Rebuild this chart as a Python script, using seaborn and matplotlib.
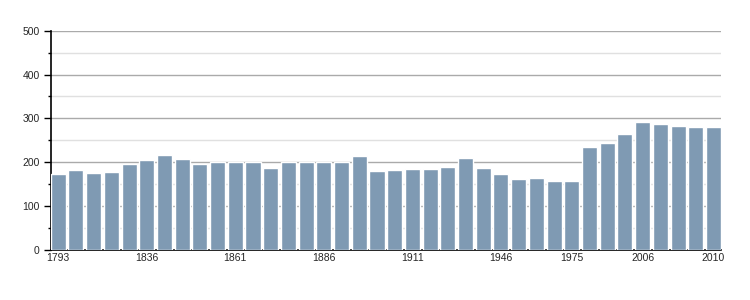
import matplotlib
matplotlib.use("Agg")
import matplotlib.pyplot as plt
import seaborn as sns
import pandas as pd
from matplotlib.ticker import MultipleLocator

years = [1793, 1800, 1806, 1821, 1831, 1836, 1841, 1846, 1851, 1856,
         1861, 1866, 1872, 1876, 1881, 1886, 1891, 1896, 1901, 1906,
         1911, 1921, 1926, 1931, 1936, 1946, 1954, 1962, 1968, 1975,
         1982, 1990, 1999, 2006, 2007, 2008, 2009, 2010]
population = [173, 182, 176, 178, 196, 205, 217, 207, 196, 201,
              201, 201, 187, 201, 201, 201, 201, 214, 180, 182,
              185, 185, 189, 210, 187, 173, 162, 164, 157, 157,
              235, 244, 264, 292, 287, 283, 280, 280]
shown_labels = [1793, 1836, 1861, 1886, 1911, 1946, 1975, 2006, 2010]

sns.set_style("white")
plt.rcParams['font.family'] = ['Liberation Sans', 'DejaVu Sans']

df = pd.DataFrame({"year": [str(y) for y in years], "pop": population})

fig = plt.figure(figsize=(7.5, 3), dpi=100)
ax = fig.add_axes([0.0676, 0.1667, 0.8937, 0.7311])

sns.barplot(data=df, x="year", y="pop", color="#7f9ab3", saturation=1,
            width=0.85, ax=ax, zorder=3)

ax.set_xlim(-0.425, len(years) - 1 + 0.425)
ax.set_ylim(0, 500)
ax.yaxis.set_major_locator(MultipleLocator(100))
ax.yaxis.set_minor_locator(MultipleLocator(50))
ax.grid(which="major", axis="y", color="#aaaaaa", linewidth=1, zorder=0)
ax.grid(which="minor", axis="y", color="#e0e0e0", linewidth=1, zorder=0)
ax.grid(False, axis="x")
ax.set_axisbelow(True)

ticks = [i for i, y in enumerate(years) if y in shown_labels]
ax.set_xticks(ticks)
ax.set_xticklabels([str(years[i]) for i in ticks])

for s in ["top", "right"]:
    ax.spines[s].set_visible(False)
for s in ["left", "bottom"]:
    ax.spines[s].set_color("black")
    ax.spines[s].set_linewidth(1.2)

ax.tick_params(axis="y", which="major", length=5, width=1, color="black",
               labelsize=7.5, pad=3, left=True)
ax.tick_params(axis="y", which="minor", length=2, width=1, color="black", left=True)
ax.tick_params(axis="x", length=0, labelsize=7.5, pad=2)
ax.set_xlabel("")
ax.set_ylabel("")

fig.savefig("out.png", dpi=100, facecolor="white")
